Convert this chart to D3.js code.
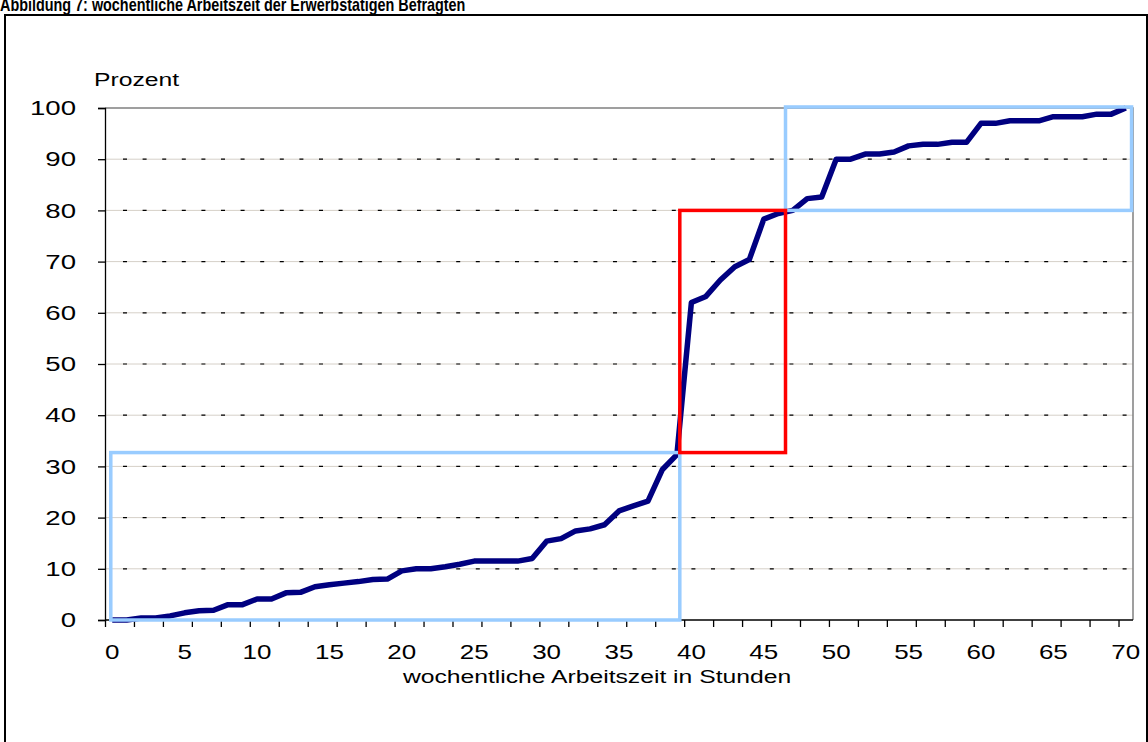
<!DOCTYPE html>
<html>
<head>
<meta charset="utf-8">
<script src="https://cdn.jsdelivr.net/npm/d3@7"></script>
<style>
    body { margin: 0; background: #fff; }
    svg { display: block; font-family: "Liberation Sans", Arial, sans-serif; }
</style>
</head>
<body>
<svg id="chart" width="1148" height="742"></svg>
<script>
// weekly working hours (category axis 0..70)
var hours = d3.range(0, 71);

// cumulative share of respondents, in percent
var percent = [
    0, 0, 0.4, 0.4, 0.8, 1.4, 1.8, 1.9, 3.0, 3.0,
    4.1, 4.1, 5.3, 5.4, 6.5, 6.9, 7.2, 7.5, 7.9, 8.0,
    9.6, 10.0, 10.0, 10.4, 10.9, 11.5, 11.5, 11.5, 11.5, 12.0,
    15.4, 15.9, 17.4, 17.8, 18.6, 21.3, 22.3, 23.2, 29.4, 32.3,
    62.0, 63.2, 66.4, 69.0, 70.4, 78.3, 79.4, 80.0, 82.3, 82.6,
    90.0, 90.0, 91.0, 91.0, 91.4, 92.6, 92.9, 92.9, 93.3, 93.3,
    97.0, 97.0, 97.5, 97.5, 97.5, 98.3, 98.3, 98.3, 98.8, 98.8,
    100
];

var yTicks = [0, 10, 20, 30, 40, 50, 60, 70, 80, 90, 100];
var xTickLabels = [0, 5, 10, 15, 20, 25, 30, 35, 40, 45, 50, 55, 60, 65, 70];

// highlighted ranges: [from hour, to hour, from %, to %]
var lowBox = [-0.1, 39.2, 0, 32.7];
var midBox = [39.2, 46.5, 32.7, 80];
var highBox = [46.5, 70.4, 80, 100.2];

var svg = d3.select("#chart"),
    margin = {top: 108, left: 105, bottom: 122, right: 15},
    width = +svg.attr("width"),
    height = +svg.attr("height");

var stretch = 1.3; // text in the picture is drawn wider than normal

// place a text with horizontal stretch
function placeText(sel, x, y, s) {
    sel.attr("transform", "translate(" + x + "," + y + ") scale(" + (s || stretch) + ",1)");
}

var x = d3.scaleLinear()
    .domain([-0.5, 70.5])
    .range([margin.left, width - margin.right]);

var y = d3.scaleLinear()
    .domain([0, 100])
    .range([height - margin.bottom, margin.top]);

// chart area border
svg.append("rect")
    .attr("x", 5)
    .attr("y", 15)
    .attr("width", width - 6)
    .attr("height", height + 20)
    .attr("fill", "none")
    .attr("stroke", "#000")
    .attr("stroke-width", 2);

// title (cut at the top like the source)
svg.append("text")
    .attr("font-weight", "bold")
    .attr("font-size", 18)
    .text("Abbildung 7: wochentliche Arbeitszeit der Erwerbstätigen Befragten")
    .call(placeText, 0, 11, 0.8);

// gridlines
var grid = svg.append("g");
yTicks.filter(d => d > 0 && d < 100).forEach(function(d) {
    grid.append("line")
        .attr("x1", x.range()[0]).attr("x2", x.range()[1])
        .attr("y1", y(d)).attr("y2", y(d))
        .attr("stroke", "#d6d0c8")
        .attr("stroke-width", 1);
    grid.append("line")
        .attr("x1", x.range()[0] + 18).attr("x2", x.range()[1])
        .attr("y1", y(d)).attr("y2", y(d))
        .attr("stroke", "#000")
        .attr("stroke-width", 1.2)
        .attr("stroke-dasharray", "4,15.6");
});

// plot area border (top and right)
svg.append("path")
    .attr("d", "M" + x.range()[0] + "," + y(100) + "H" + x.range()[1] + "V" + y(0))
    .attr("fill", "none")
    .attr("stroke", "#808080")
    .attr("stroke-width", 1.5);

// y axis
var yAxis = d3.axisLeft(y)
    .tickValues(yTicks)
    .tickSize(7)
    .tickFormat("");

svg.append("g")
    .attr("transform", `translate(${margin.left},0)`)
    .call(yAxis)
    .call(g => g.selectAll("path, line").attr("stroke", "#000").attr("stroke-width", 1.3));

yTicks.forEach(function(d) {
    svg.append("text")
        .attr("font-size", 20)
        .attr("text-anchor", "end")
        .attr("dy", "0.36em")
        .text(d)
        .call(placeText, 76, y(d), 1.38);
});

// x axis: tick marks every 2 hours, labels every 5
var xAxis = d3.axisBottom(x)
    .tickValues(d3.range(-0.5, 70, 2))
    .tickSize(7)
    .tickFormat("");

svg.append("g")
    .attr("transform", `translate(0,${height - margin.bottom})`)
    .call(xAxis)
    .call(g => g.select(".domain").attr("d", "M" + x.range()[0] + ",0H" + x.range()[1]))
    .call(g => g.selectAll("path, line").attr("stroke", "#000").attr("stroke-width", 1.3));

xTickLabels.forEach(function(d) {
    svg.append("text")
        .attr("font-size", 20)
        .attr("text-anchor", "middle")
        .text(d)
        .call(placeText, x(d), 659, 1.3);
});

// axis titles
svg.append("text")
    .attr("font-size", 19)
    .attr("text-anchor", "start")
    .text("Prozent")
    .call(placeText, 94, 86);

svg.append("text")
    .attr("font-size", 19)
    .attr("text-anchor", "middle")
    .text("wochentliche Arbeitszeit in Stunden")
    .call(placeText, 597, 683);

// the cumulative line
var line = d3.line()
    .x((d, i) => x(hours[i]))
    .y(d => y(d));

svg.append("path")
    .datum(percent)
    .attr("fill", "none")
    .attr("stroke", "#000080")
    .attr("stroke-width", 5.5)
    .attr("stroke-linejoin", "round")
    .attr("d", line);

// highlight boxes
function drawBox(b, color) {
    svg.append("rect")
        .attr("x", x(b[0]))
        .attr("y", y(b[3]))
        .attr("width", x(b[1]) - x(b[0]))
        .attr("height", y(b[2]) - y(b[3]))
        .attr("fill", "none")
        .attr("stroke", color)
        .attr("stroke-width", 3.5);
}

drawBox(lowBox, "#99ccff");
drawBox(highBox, "#99ccff");
drawBox(midBox, "#ff0000");
</script>
</body>
</html>
